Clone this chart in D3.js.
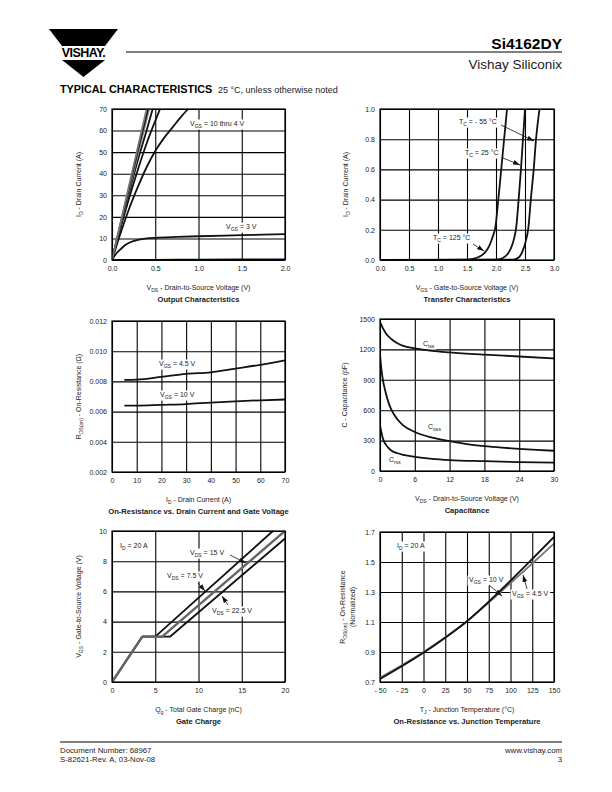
<!DOCTYPE html>
<html><head><meta charset="utf-8">
<script src="https://cdn.jsdelivr.net/npm/d3@7"></script>
<style>
body{margin:0;background:#fff}
svg{display:block}
text{font-family:"Liberation Sans",Arial,Helvetica,sans-serif;fill:#222}
</style>
</head><body>
<svg id="c" width="612" height="792"></svg>
<script>
// ---------- DATA ----------
// Output Characteristics (VDS V, ID A)
const outVgs10 = [[0,0],[0.1,17.5],[0.2,35],[0.3,52.5],[0.40,70]];
const outVgs8  = [[0,0],[0.1,17],[0.2,34],[0.3,51],[0.415,70]];
const outVgs6  = [[0,0],[0.1,16.5],[0.2,33],[0.3,49],[0.43,70]];
const outVgs5  = [[0,0],[0.1,16],[0.2,31.5],[0.3,46.5],[0.4,60],[0.47,70]];
const outVgs45 = [[0,0],[0.1,15],[0.2,29],[0.3,42],[0.4,54],[0.5,64.5],[0.555,70]];
const outVgs4  = [[0,0],[0.1,12.5],[0.2,24],[0.3,34],[0.4,43],[0.5,50.5],[0.6,56.5],[0.7,61.5],[0.8,66.5],[0.88,70]];
const outVgs3  = [[0,0],[0.05,3],[0.1,5],[0.15,6.8],[0.2,8],[0.3,9.3],[0.4,10],[0.5,10.3],[0.75,10.7],[1.0,11],[1.5,11.5],[2.0,12]];
const outVgs2  = [[0,0],[0.5,0.1],[1.0,0.2],[2.0,0.3]];
const outXTicks = [0,0.5,1,1.5,2];
const outYTicks = [0,10,20,30,40,50,60,70];

// Transfer Characteristics (VGS V, ID A)
const trTc125 = [[0,0],[1.5,0.003],[1.6,0.008],[1.7,0.02],[1.8,0.045],[1.88,0.09],[1.94,0.15],[1.99,0.22],[2.04,0.4],[2.09,0.6],[2.14,0.8],[2.19,1.0]];
const trTc25  = [[0,0],[2.0,0.002],[2.1,0.01],[2.2,0.04],[2.26,0.08],[2.31,0.14],[2.35,0.22],[2.39,0.4],[2.43,0.6],[2.465,0.8],[2.5,1.0]];
const trTcM55 = [[0,0],[2.3,0.002],[2.4,0.02],[2.46,0.06],[2.51,0.12],[2.56,0.22],[2.6,0.4],[2.65,0.6],[2.69,0.8],[2.75,1.0]];
const trXTicks = [0,0.5,1,1.5,2,2.5,3];
const trYTicks = [0,0.2,0.4,0.6,0.8,1.0];

// On-Resistance vs Drain Current (ID A, RDS ohm)
const rdsVgs45 = [[5,0.0081],[10,0.00812],[20,0.0083],[30,0.0085],[40,0.0086],[50,0.00885],[60,0.0091],[70,0.0094]];
const rdsVgs10 = [[5,0.0064],[10,0.0064],[20,0.00645],[30,0.0065],[40,0.0066],[50,0.00668],[60,0.00675],[70,0.0068]];
const rdsXTicks = [0,10,20,30,40,50,60,70];
const rdsYTicks = [0.002,0.004,0.006,0.008,0.010,0.012];

// Capacitance (VDS V, pF)
const capCiss = [[0,1470],[0.5,1410],[1,1360],[2,1300],[3,1260],[4,1235],[6,1210],[9,1185],[12,1170],[18,1148],[24,1130],[30,1110]];
const capCoss = [[0,1150],[0.25,1000],[0.5,900],[1,770],[1.5,670],[2,600],[3,510],[4,450],[6,385],[9,330],[12,295],[15,265],[18,245],[21,230],[24,218],[27,208],[30,200]];
const capCrss = [[0,450],[0.25,380],[0.5,320],[1,260],[1.5,225],[2,200],[3,175],[4,160],[6,140],[9,120],[12,108],[18,97],[24,88],[30,82]];
const capXTicks = [0,6,12,18,24,30];
const capYTicks = [0,300,600,900,1200,1500];

// Gate Charge (Qg nC, VGS V)
const gcVds75  = [[0,0],[3.5,3],[5.0,3],[18.6,10]];
const gcVds15  = [[0,0],[3.5,3],[5.8,3],[20,10]];
const gcVds225 = [[0,0],[3.5,3],[6.7,3],[20,9.5]];
const gcXTicks = [0,5,10,15,20];
const gcYTicks = [0,2,4,6,8,10];

// On-Resistance vs Junction Temperature (TJ C, normalized)
const tjVgs10 = [[-50,0.72],[-25,0.805],[0,0.895],[25,0.995],[50,1.105],[75,1.235],[100,1.375],[125,1.52],[150,1.667]];
const tjVgs45 = [[-50,0.73],[-25,0.812],[0,0.9],[25,0.998],[50,1.105],[75,1.23],[100,1.36],[125,1.49],[150,1.623]];
const tjXTicks = [-50,-25,0,25,50,75,100,125,150];
const tjYTicks = [0.7,0.9,1.1,1.3,1.5,1.7];

// ---------- DRAWING ----------
const svg = d3.select('#c');
const defs = svg.append('defs');
defs.append('marker').attr('id','arr').attr('viewBox','0 0 10 7').attr('refX',10).attr('refY',3.5)
  .attr('markerWidth',7).attr('markerHeight',5).attr('markerUnits','userSpaceOnUse').attr('orient','auto')
  .append('path').attr('d','M0,0L10,3.5L0,7Z').attr('fill','#111');

function rich(sel, x, y, str, size, anchor, weight) {
  const t = sel.append('text').attr('x',x).attr('y',y).attr('font-size',size)
    .attr('text-anchor',anchor||'start');
  if (weight) t.attr('font-weight',weight);
  const parts = str.split(/(_\{[^}]*\})/);
  let shifted = false;
  parts.forEach(p => {
    if (!p) return;
    if (p.startsWith('_{')) {
      t.append('tspan').attr('font-size',size*0.72).attr('dy',size*0.3).text(p.slice(2,-1));
      shifted = true;
    } else {
      const ts = t.append('tspan').text(p);
      if (shifted) { ts.attr('dy',-size*0.3); shifted = false; }
    }
  });
  return t;
}

let clipId = 0;
function panel(p) {
  const g = svg.append('g');
  const x = d3.scaleLinear().domain(p.xd).range([p.l,p.r]);
  const y = d3.scaleLinear().domain(p.yd).range([p.b,p.t]);
  const ax = g.append('g').attr('transform',`translate(0,${p.b})`)
    .call(d3.axisBottom(x).tickValues(p.xt).tickFormat(p.xf).tickSize(-(p.b-p.t)).tickPadding(6));
  const ay = g.append('g').attr('transform',`translate(${p.l},0)`)
    .call(d3.axisLeft(y).tickValues(p.yt).tickFormat(p.yf).tickSize(-(p.r-p.l)).tickPadding(5));
  [ax,ay].forEach(a => {
    a.select('.domain').remove();
    a.selectAll('line').attr('stroke','#000').attr('stroke-width',1.1);
    a.selectAll('text').attr('font-size',7).attr('fill','#222');
  });
  // labels inside with white background
  const lg = g.append('g');
  (p.labels||[]).forEach(lb => {
    const t = rich(lg, lb[0], lb[1], lb[2], 7, lb[3]||'start');
    const bb = t.node().getBBox();
    lg.insert('rect', () => t.node()).attr('x',bb.x-1.5).attr('y',bb.y-0.5)
      .attr('width',bb.width+3).attr('height',bb.height+1).attr('fill','#fff');
  });
  const id = 'clip' + (clipId++);
  defs.append('clipPath').attr('id',id).append('rect')
    .attr('x',p.l).attr('y',p.t-1).attr('width',p.r-p.l).attr('height',p.b-p.t+2);
  const cg = g.append('g').attr('clip-path',`url(#${id})`);
  const line = d3.line().x(d=>x(d[0])).y(d=>y(d[1])).curve(d3.curveMonotoneX);
  const lin = d3.line().x(d=>x(d[0])).y(d=>y(d[1]));
  p.series.forEach(s => {
    cg.append('path').datum(s.data).attr('d', s.linear ? lin : line)
      .attr('fill','none').attr('stroke',s.color||'#111').attr('stroke-width',s.w||1.8)
      .attr('stroke-linejoin','round');
  });
  g.append('rect').attr('x',p.l).attr('y',p.t).attr('width',p.r-p.l).attr('height',p.b-p.t)
    .attr('fill','none').attr('stroke','#000').attr('stroke-width',1.2);
  (p.arrows||[]).forEach(a => g.append('line').attr('x1',a[0]).attr('y1',a[1]).attr('x2',a[2]).attr('y2',a[3])
    .attr('stroke','#111').attr('stroke-width',0.8).attr('marker-end','url(#arr)'));
  // axis titles
  const cx = (p.l+p.r)/2;
  rich(g, cx, p.b+30, p.xlabel, 7, 'middle');
  rich(g, cx, p.b+42, p.title, 7.6, 'middle', 'bold');
  const ylab = Array.isArray(p.ylabel) ? p.ylabel : [p.ylabel];
  const yc = (p.t+p.b)/2;
  ylab.forEach((s,i) => {
    const gx = p.ylx + i*10;
    const t = rich(g, 0, 0, s, 7, 'middle');
    t.attr('transform',`translate(${gx},${yc}) rotate(-90)`);
  });
  return {x,y};
}

const f1 = d3.format('.1f');
const neg = d => d < 0 ? '- ' + Math.abs(d) : String(d);

// Output Characteristics
panel({l:112,r:285,t:109,b:260,xd:[0,2],yd:[0,70],xt:outXTicks,yt:outYTicks,xf:f1,yf:d=>d,
  series:[
    {data:outVgs2,color:'#111'},
    {data:outVgs3,color:'#111'},
    {data:outVgs4,color:'#111'},
    {data:outVgs45,color:'#111'},
    {data:outVgs5,color:'#111'},
    {data:outVgs6,color:'#888'},
    {data:outVgs8,color:'#111'},
    {data:outVgs10,color:'#777'}
  ],
  labels:[[190,126,'V_{GS} = 10 thru 4 V'],[226,229,'V_{GS} = 3 V']],
  xlabel:'V_{DS} - Drain-to-Source Voltage (V)', title:'Output Characteristics',
  ylabel:'I_{D} - Drain Current (A)', ylx:81});

// Transfer Characteristics
panel({l:380,r:554,t:109,b:260,xd:[0,3],yd:[0,1],xt:trXTicks,yt:trYTicks,xf:f1,yf:f1,
  series:[
    {data:trTc125},{data:trTc25},{data:trTcM55}
  ],
  labels:[[459,124,'T_{C} = - 55 °C'],[465,155,'T_{C} = 25 °C'],[433,240,'T_{C} = 125 °C']],
  arrows:[[501,125,534,141],[503,158,520,165],[473,244,484,251]],
  xlabel:'V_{GS} - Gate-to-Source Voltage (V)', title:'Transfer Characteristics',
  ylabel:'I_{D} - Drain Current (A)', ylx:348});

// On-Resistance vs Drain Current
panel({l:112,r:285,t:321,b:472,xd:[0,70],yd:[0.002,0.012],xt:rdsXTicks,yt:rdsYTicks,xf:d=>d,yf:d3.format('.3f'),
  series:[{data:rdsVgs45},{data:rdsVgs10}],
  labels:[[159,366,'V_{GS} = 4.5 V'],[160,397,'V_{GS} = 10 V']],
  xlabel:'I_{D} - Drain Current (A)', title:'On-Resistance vs. Drain Current and Gate Voltage',
  ylabel:'R_{DS(on)} - On-Resistance (Ω)', ylx:81});

// Capacitance
panel({l:380,r:554,t:319,b:471,xd:[0,30],yd:[0,1500],xt:capXTicks,yt:capYTicks,xf:d=>d,yf:d=>d,
  series:[{data:capCiss},{data:capCoss},{data:capCrss}],
  labels:[[423,346,'C_{iss}'],[428,429,'C_{oss}'],[389,462,'C_{rss}']],
  xlabel:'V_{DS} - Drain-to-Source Voltage (V)', title:'Capacitance',
  ylabel:'C - Capacitance (pF)', ylx:347});

// Gate Charge
panel({l:112,r:285,t:531,b:682,xd:[0,20],yd:[0,10],xt:gcXTicks,yt:gcYTicks,xf:d=>d,yf:d=>d,
  series:[{data:gcVds225,linear:true,color:'#111'},{data:gcVds75,linear:true,color:'#111'},{data:gcVds15,linear:true,color:'#666',w:2.4}],
  labels:[[120,548,'I_{D} = 20 A'],[190,555,'V_{DS} = 15 V'],[167,578,'V_{DS} = 7.5 V'],[212,613,'V_{DS} = 22.5 V']],
  arrows:[[230,555,246,563],[198,583,205,591],[228,605,222,596]],
  xlabel:'Q_{g} - Total Gate Charge (nC)', title:'Gate Charge',
  ylabel:'V_{GS} - Gate-to-Source Voltage (V)', ylx:81});

// On-Resistance vs Junction Temperature
panel({l:380,r:554,t:532,b:682,xd:[-50,150],yd:[0.7,1.7],xt:tjXTicks,yt:tjYTicks,xf:neg,yf:f1,
  series:[{data:tjVgs45,color:'#777'},{data:tjVgs10,color:'#111'}],
  labels:[[397,548,'I_{D} = 20 A'],[469,582,'V_{GS} = 10 V'],[512,596,'V_{GS} = 4.5 V']],
  arrows:[[489,585,502,596],[527,589,523,575]],
  xlabel:'T_{J} - Junction Temperature (°C)', title:'On-Resistance vs. Junction Temperature',
  ylabel:['R_{DS(on)} - On-Resistance','(Normalized)'], ylx:345});

// ---------- HEADER / FOOTER ----------
const hd = svg.append('g');
hd.append('path').attr('d','M49,29L118,29L105,46L62,46Z').attr('fill','#000');
hd.append('text').attr('x',83.5).attr('y',57).attr('text-anchor','middle').attr('font-size',12.5)
  .attr('font-weight','bold').attr('letter-spacing',-0.6).style('fill','#000').text('VISHAY.');
hd.append('path').attr('d','M62,60L105,60L83.5,77Z').attr('fill','#000');
hd.append('line').attr('x1',126).attr('x2',562).attr('y1',52).attr('y2',52).attr('stroke','#000').attr('stroke-width',1);
hd.append('text').attr('x',562).attr('y',49).attr('text-anchor','end').attr('font-size',15.5).attr('font-weight','bold').style('fill','#000').text('Si4162DY');
hd.append('text').attr('x',562).attr('y',69).attr('text-anchor','end').attr('font-size',13.5).text('Vishay Siliconix');
hd.append('text').attr('x',60).attr('y',93).attr('font-size',10.8).attr('font-weight','bold').style('fill','#000').text('TYPICAL CHARACTERISTICS');
hd.append('text').attr('x',218).attr('y',93).attr('font-size',9).text('25 °C, unless otherwise noted');

const ft = svg.append('g');
ft.append('line').attr('x1',60).attr('x2',562).attr('y1',742).attr('y2',742).attr('stroke','#000').attr('stroke-width',1);
ft.append('text').attr('x',60).attr('y',753).attr('font-size',7.8).text('Document Number: 68967');
ft.append('text').attr('x',60).attr('y',762).attr('font-size',7.8).text('S-82621-Rev. A, 03-Nov-08');
ft.append('text').attr('x',562).attr('y',753).attr('font-size',7.8).attr('text-anchor','end').text('www.vishay.com');
ft.append('text').attr('x',562).attr('y',762).attr('font-size',7.8).attr('text-anchor','end').text('3');
</script>
</body></html>
